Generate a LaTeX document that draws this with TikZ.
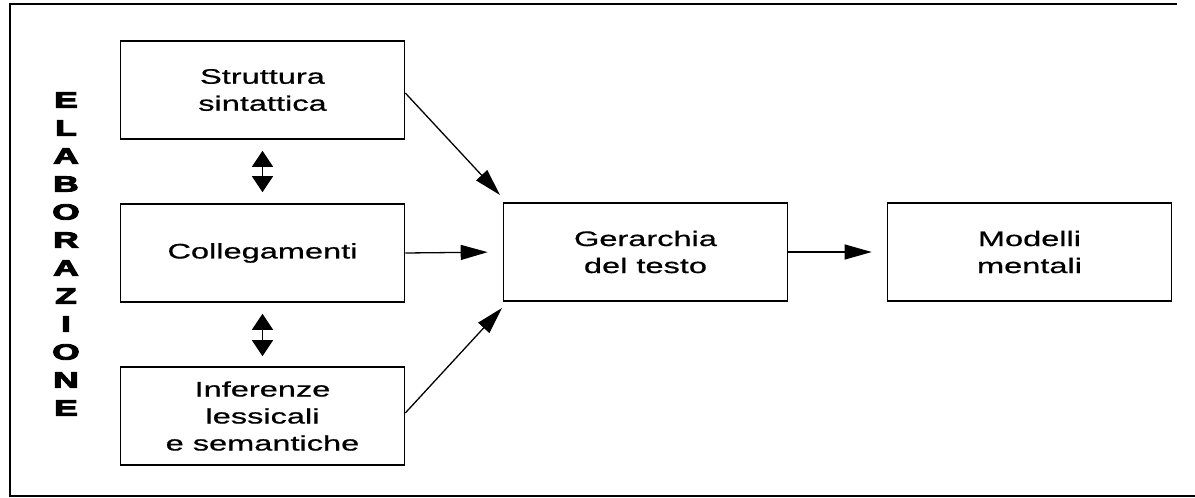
\documentclass[tikz,border=0pt]{standalone}
\usepackage{fontspec}
\usepackage{graphicx}
\newfontfamily\boxfont{Liberation Sans}[FakeStretch=1.55,FakeBold=0.7]
\newfontfamily\heavyfont{Liberation Sans Bold}[FakeBold=4]
\newcommand\wideletter[1]{\scalebox{1.6}[1]{#1}}
\usetikzlibrary{arrows.meta}
\tikzset{
  stepbox/.style={draw, line width=1.6pt, minimum width=284pt, minimum height=98pt, inner sep=0pt,
    align=center, font=\boxfont\fontsize{21}{27}\selectfont},
  flow/.style={line width=1.3pt, -{Triangle[length=27pt,width=15pt]}},
  dbl/.style={line width=1.3pt, {Triangle[length=16pt,width=21pt]}-{Triangle[length=16pt,width=21pt]}},
  frame/.style={line width=1.4pt}
}
\begin{document}
\begin{tikzpicture}[x=1pt,y=-1pt]
\useasboundingbox (0,0) rectangle (1195,498);
% frame (open on the right)
\coordinate (f1) at (1177,4);
\coordinate (f2) at (10,4);
\coordinate (f3) at (10,496);
\coordinate (f4) at (1195,496);
\draw[frame] (f1) -- (f2) -- (f3) -- (f4);

\node[stepbox] (s) at (262.5,90) {Struttura\\sintattica};
\node[stepbox] (c) at (262.5,253) {Collegamenti};
\node[stepbox] (i) at (262.5,416) {Inferenze\\lessicali\\e semantiche};
\node[stepbox] (g) at (645.5,252) {Gerarchia\\del testo};
\node[stepbox] (m) at (1029.5,252) {Modelli\\mentali};

\node[font=\heavyfont\fontsize{22}{28}\selectfont, align=center, inner sep=0pt] (el) at (66,254)
  {\wideletter{E}\\\wideletter{L}\\\wideletter{A}\\\wideletter{B}\\\wideletter{O}\\\wideletter{R}\\
   \wideletter{A}\\\wideletter{Z}\\\wideletter{I}\\\wideletter{O}\\\wideletter{N}\\\wideletter{E}};

\coordinate (gt) at (500,195);
\coordinate (gb) at (502,308);
\draw[flow] ([yshift=-3pt]s.east) -- (gt);
\draw[flow, shorten >=15pt] (c.east) -- (g.west);
\draw[flow] ([yshift=3pt]i.east) -- (gb);
\draw[flow, shorten >=15pt] (g.east) -- (m.west);

\draw[dbl, shorten <=11pt, shorten >=11pt] (s.south) -- (c.north);
\draw[dbl, shorten <=11pt, shorten >=10pt] (c.south) -- (i.north);
\end{tikzpicture}
\end{document}
